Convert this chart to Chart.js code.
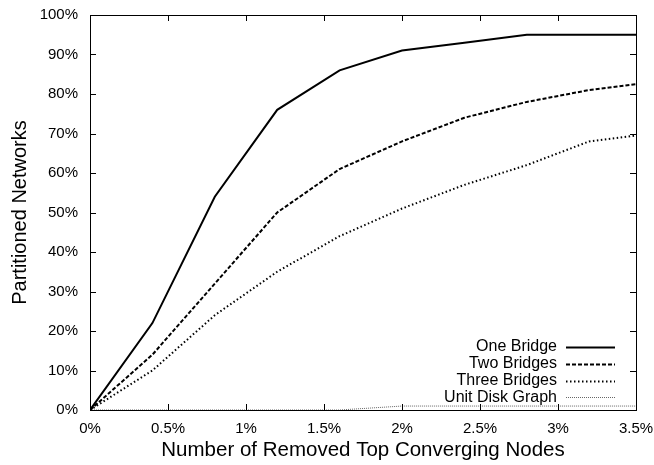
<!DOCTYPE html>
<html>
<head>
<meta charset="utf-8">
<script src="https://cdn.jsdelivr.net/npm/chart.js@4"></script>
<style>
  html, body { margin: 0; padding: 0; background: #fff; }
  #wrap { width: 654px; height: 465px; }
</style>
</head>
<body>
<div id="wrap"><canvas id="partitionChart" width="654" height="465"></canvas></div>
<script>
// removed top converging nodes (%) and partitioned networks (%)
const removedNodes = [0, 0.4, 0.8, 1.2, 1.6, 2.0, 2.4, 2.8, 3.2, 3.5];
const oneBridge    = [0, 22, 54, 76, 86, 91, 93, 95, 95, 95];
const twoBridges   = [0, 14, 32, 50, 61, 68, 74, 78, 81, 82.5];
const threeBridges = [0, 10, 24, 35, 44, 51, 57, 62, 68, 69.5];
const unitDisk     = [0, 0, 0, 0, 0, 1, 1, 1, 1, 1];

const xTicks = [0, 0.5, 1, 1.5, 2, 2.5, 3, 3.5];
const yTicks = [0, 10, 20, 30, 40, 50, 60, 70, 80, 90, 100];

const FONT = "'Liberation Sans', Arial, sans-serif";

const points = ys => removedNodes.map((x, i) => ({ x, y: ys[i] }));

// gnuplot-style frame with inward ticks on all four sides, plus the key
const framePlugin = {
  id: "frame",
  afterDatasetsDraw(chart) {
    const { ctx, chartArea: a, scales } = chart;
    const len = 6;
    ctx.save();
    ctx.strokeStyle = "#000";
    ctx.lineWidth = 1;
    ctx.beginPath();
    xTicks.forEach(v => {
      const px = Math.round(scales.x.getPixelForValue(v)) + 0.5;
      ctx.moveTo(px, a.bottom); ctx.lineTo(px, a.bottom - len);
      ctx.moveTo(px, a.top); ctx.lineTo(px, a.top + len);
    });
    yTicks.forEach(v => {
      const py = Math.round(scales.y.getPixelForValue(v)) + 0.5;
      ctx.moveTo(a.left, py); ctx.lineTo(a.left + len, py);
      ctx.moveTo(a.right, py); ctx.lineTo(a.right - len, py);
    });
    ctx.stroke();
    ctx.strokeRect(Math.round(a.left) + 0.5, Math.round(a.top) + 0.5,
                   Math.round(a.right - a.left), Math.round(a.bottom - a.top));

    // key in the lower right corner
    const textRight = a.right - 79;
    const sampleL = a.right - 70, sampleR = a.right - 21;
    const rowH = 16.8;
    const firstRow = a.bottom - 63;
    ctx.font = "16px " + FONT;
    ctx.textAlign = "right";
    ctx.textBaseline = "middle";
    chart.data.datasets.forEach((ds, i) => {
      const y = firstRow + i * rowH;
      ctx.fillStyle = "#000";
      ctx.fillText(ds.label, textRight, y);
      ctx.save();
      ctx.strokeStyle = ds.borderColor;
      ctx.lineWidth = ds.borderWidth;
      ctx.setLineDash(ds.borderDash || []);
      ctx.beginPath();
      ctx.moveTo(sampleL, Math.round(y) + 0.5);
      ctx.lineTo(sampleR, Math.round(y) + 0.5);
      ctx.stroke();
      ctx.restore();
    });
    ctx.restore();
  }
};

new Chart(document.getElementById("partitionChart"), {
  type: "line",
  data: {
    datasets: [
      { label: "One Bridge", data: points(oneBridge), borderColor: "#000", borderWidth: 2, borderDash: [] },
      { label: "Two Bridges", data: points(twoBridges), borderColor: "#000", borderWidth: 2, borderDash: [4, 2] },
      { label: "Three Bridges", data: points(threeBridges), borderColor: "#000", borderWidth: 2, borderDash: [1.5, 2.5] },
      { label: "Unit Disk Graph", data: points(unitDisk), borderColor: "#666", borderWidth: 1, borderDash: [1, 1] },
    ],
  },
  options: {
    responsive: false,
    animation: false,
    devicePixelRatio: 1,
    layout: { padding: { left: 0, right: 18, top: 15, bottom: 0 } },
    elements: { point: { radius: 0 }, line: { tension: 0, fill: false } },
    plugins: { legend: { display: false }, tooltip: { enabled: false } },
    scales: {
      x: {
        type: "linear",
        min: 0,
        max: 3.5,
        afterBuildTicks: s => { s.ticks = xTicks.map(value => ({ value })); },
        afterFit: s => { s.height = 55; s.paddingLeft = 0; s.paddingRight = 0; },
        grid: { display: false, drawTicks: false },
        border: { display: false },
        ticks: {
          color: "#000",
          padding: 10,
          maxRotation: 0,
          font: { family: FONT, size: 15 },
          callback: v => v + "%",
        },
        title: {
          display: true,
          text: "Number of Removed Top Converging Nodes",
          color: "#000",
          font: { family: FONT, size: 20.5 },
          padding: { top: 0, bottom: 2 },
        },
      },
      y: {
        min: 0,
        max: 100,
        afterBuildTicks: s => { s.ticks = yTicks.map(value => ({ value })); },
        afterFit: s => { s.width = 90; s.paddingTop = 0; s.paddingBottom = 0; },
        grid: { display: false, drawTicks: false },
        border: { display: false },
        ticks: {
          color: "#000",
          padding: 12,
          font: { family: FONT, size: 15 },
          callback: v => v + "%",
        },
        title: {
          display: true,
          text: "Partitioned Networks",
          color: "#000",
          font: { family: FONT, size: 20 },
          padding: { top: 8, bottom: 0 },
        },
      },
    },
  },
  plugins: [framePlugin],
});
</script>
</body>
</html>
